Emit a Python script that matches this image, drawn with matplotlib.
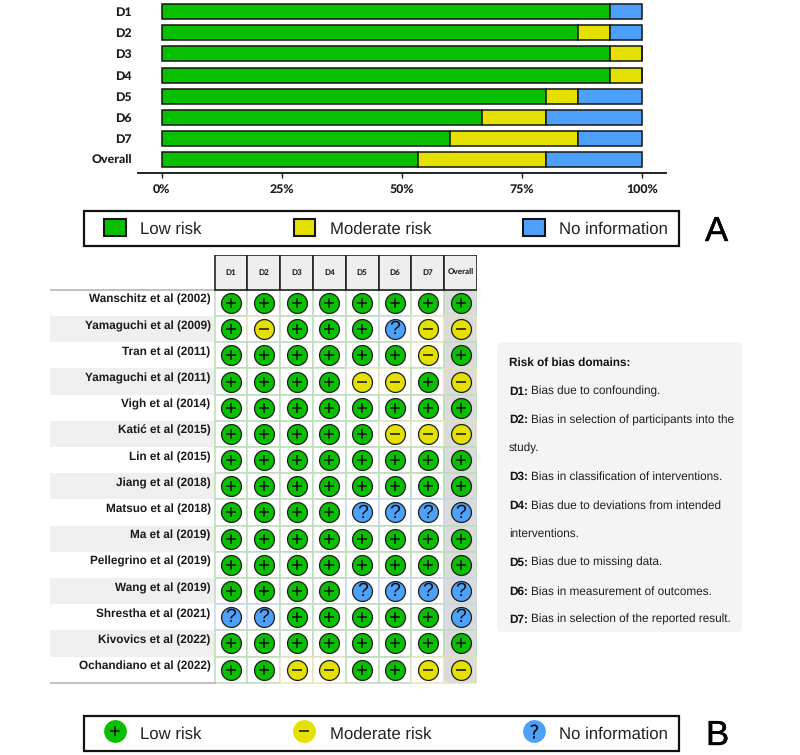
import matplotlib
matplotlib.use("Agg")
import matplotlib.pyplot as plt
import matplotlib.patheffects as pe
from matplotlib.patches import Patch, Rectangle, FancyBboxPatch
from matplotlib.lines import Line2D
from matplotlib.legend_handler import HandlerTuple

W, H = 800, 755

domains = ["D1", "D2", "D3", "D4", "D5", "D6", "D7", "Overall"]
low_pct = [93.3, 86.7, 93.3, 93.3, 80.0, 66.7, 60.0, 53.3]
moderate_pct = [0, 6.7, 6.7, 6.7, 6.7, 13.3, 26.7, 26.7]
noinfo_pct = [6.7, 6.6, 0, 0, 13.3, 20.0, 13.3, 20.0]
pct_ticks = [0, 25, 50, 75, 100]

studies = [
    "Wanschitz et al (2002)", "Yamaguchi et al (2009)", "Tran et al (2011)",
    "Yamaguchi et al (2011)", "Vigh et al (2014)", "Katić et al (2015)",
    "Lin et al (2015)", "Jiang et al (2018)", "Matsuo et al (2018)",
    "Ma et al (2019)", "Pellegrino et al (2019)", "Wang et al (2019)",
    "Shrestha et al (2021)", "Kivovics et al (2022)", "Ochandiano et al (2022)",
]
# one character per domain, D1..D7 then Overall
judgements = [
    "++++++++", "+-+++?--", "++++++-+", "++++--+-", "++++++++",
    "+++++---", "++++++++", "++++++++", "++++????", "++++++++",
    "++++++++", "++++????", "??+++++?", "++++++++", "++--++--",
]
risk_labels = ["Low risk", "Moderate risk", "No information"]

domain_notes = [
    ("", "Risk of bias domains:"),
    ("D1:", "Bias due to confounding."),
    ("D2:", "Bias in selection of participants into the"),
    ("", "study."),
    ("D3:", "Bias in classification of interventions."),
    ("D4:", "Bias due to deviations from intended"),
    ("", "interventions."),
    ("D5:", "Bias due to missing data."),
    ("D6:", "Bias in measurement of outcomes."),
    ("D7:", "Bias in selection of the reported result."),
]

GREEN = "#08BF00"
YELLOW = "#E4E000"
BLUE = "#4EA1FB"
INK = "#111111"
colors = {"+": GREEN, "-": YELLOW, "?": BLUE}
tints = {"+": "#BBDDBB", "-": "#E6E4BC", "?": "#C8D6EE"}

plt.rcParams["font.family"] = ["Liberation Sans", "DejaVu Sans"]
plt.rcParams["text.hinting"] = "none"
fig = plt.figure(figsize=(W / 100, H / 100), dpi=100)


def px_axes(x0, y0, x1, y1):
    ax = fig.add_axes([x0 / W, 1 - y1 / H, (x1 - x0) / W, (y1 - y0) / H])
    ax.patch.set_alpha(0)
    return ax


# panel A, stacked bars
ax = px_axes(138, 0, 666, 172.5)
left2 = [a + b for a, b in zip(low_pct, moderate_pct)]
pos = list(range(len(domains)))
bar_style = dict(height=0.71, edgecolor="#151515", linewidth=1.1)
ax.barh(pos, low_pct, color=GREEN, **bar_style)
ax.barh(pos, moderate_pct, left=low_pct, color=YELLOW, **bar_style)
ax.barh(pos, noinfo_pct, left=left2, color=BLUE, **bar_style)
ax.set_xlim(-4.93, 105)
ax.set_ylim(7.6, -0.544)
for s in ["top", "left", "right"]:
    ax.spines[s].set_visible(False)
ax.spines["bottom"].set_linewidth(1.4)
ax.spines["bottom"].set_color("#222222")
ax.set_yticks(pos, domains, fontfamily="Lato", fontweight="black", fontsize=8.9)
ax.set_xticks(pct_ticks, [f"{t}%" for t in pct_ticks], fontfamily="Lato",
              fontweight="black", fontsize=8.9)
ax.tick_params(axis="y", length=0, pad=4.5, colors="#1A1A1A")
ax.tick_params(axis="x", length=3.5, width=1, pad=5, colors="#1A1A1A")

# panel B, traffic light table
n_rows = len(studies)
n_cols = len(domains)
ax2 = px_axes(50, 255, 477, 684)
ax2.set_xlim(-5.515, n_cols - 0.5)
ax2.set_ylim(n_rows - 0.5 + 0.05, -1.83)
ax2.axis("off")

for i, study in enumerate(studies):
    if i % 2 == 1:
        ax2.add_patch(Rectangle((-5.515, i - 0.5), 5.015, 1, color="#EFEFEF", lw=0))
    ax2.text(-0.62, i - 0.12, study, ha="right", va="center", fontsize=8.5,
             fontweight="bold", color="#1A1A1A")
ax2.plot([-5.515, -0.5], [-0.5, -0.5], color="#BBBBBB", lw=1.3)
ax2.plot([-5.515, -0.5], [n_rows - 0.5, n_rows - 0.5], color="#BBBBBB", lw=1.3)

for j, name in enumerate(domains):
    ax2.add_patch(Rectangle((j - 0.5, -1.83), 1, 1.33, facecolor="#EEEEEE",
                            edgecolor="#222222", lw=1.2, zorder=3))
    ax2.text(j, -1.17, name, ha="center", va="center", fontfamily="Lato",
             fontweight="black", fontsize=5.8, color="#222222", zorder=4)

for i, row in enumerate(judgements):
    for j, mark in enumerate(row):
        face = "#DBDBDB" if j == n_cols - 1 else "white"
        ax2.add_patch(Rectangle((j - 0.5, i - 0.5), 1, 1, facecolor=face,
                                edgecolor=tints[mark], lw=1.1, zorder=1))
        ax2.scatter(j, i, s=205, color=colors[mark], edgecolor="#1C1C1C",
                    linewidth=0.9, zorder=3)
        if mark == "+":
            ax2.scatter(j, i, s=62, marker="+", color=INK, linewidth=1.1, zorder=4)
        elif mark == "-":
            ax2.scatter(j, i, s=62, marker="_", color=INK, linewidth=1.1, zorder=4)
        else:
            ax2.text(j, i + 0.01, "?", ha="center", va="center", fontsize=14,
                     color=INK, zorder=4)

# domain notes panel, legend frames and panel letters
ax3 = px_axes(0, 0, W, H)
ax3.set_xlim(0, W)
ax3.set_ylim(H, 0)
ax3.axis("off")
ax3.add_patch(FancyBboxPatch((501, 346), 237, 282, boxstyle="round,pad=4,rounding_size=5",
                             facecolor="#F4F4F4", edgecolor="none"))
renderer = fig.canvas.get_renderer()
for k, (head, body) in enumerate(domain_notes):
    y = 366 + k * 28.55
    x = 509
    if k == 0:
        ax3.text(x, y, body, fontsize=8.45, fontweight="bold", va="baseline", color=INK)
        continue
    if head:
        t = ax3.text(x, y, head, fontsize=8.45, fontweight="bold", va="baseline", color=INK)
        x = t.get_window_extent(renderer).x1 + 3
    ax3.text(x, y, body, fontsize=8.45, va="baseline", color="#1E1E1E")

stroke = [pe.withStroke(linewidth=0.3, foreground="black")]
ax3.text(705, 241, "A", fontsize=25, va="baseline", color="black", path_effects=stroke)
ax3.text(706, 745, "B", fontsize=25, va="baseline", color="black", path_effects=stroke)

ax3.add_patch(Rectangle((83.5, 211), 595.5, 34.5, facecolor="none", edgecolor=INK, lw=1.6))
ax3.add_patch(Rectangle((83.5, 715.5), 595.5, 35, facecolor="none", edgecolor=INK, lw=1.6))

# legends
legend_style = dict(loc="center", ncol=3, fontsize=12.1, frameon=False,
                    handlelength=1.3, handleheight=1.2,
                    handletextpad=0.84, columnspacing=5.5, borderaxespad=0,
                    labelcolor="#222222")
swatches = [Patch(facecolor=c, edgecolor="#151515", linewidth=1.5)
            for c in (GREEN, YELLOW, BLUE)]
fig.legend(swatches, risk_labels, bbox_to_anchor=(386 / W, 1 - 228 / H), **legend_style)


def dot(color, glyph, size, edge):
    base = Line2D([], [], ls="", marker="o", ms=16.4, mfc=color, mec="none")
    top = Line2D([], [], ls="", marker=glyph, ms=size, color=INK, mew=edge)
    return (base, top)


dots = [dot(GREEN, "+", 6.5, 1.1), dot(YELLOW, "_", 6.5, 1.1), dot(BLUE, "$?$", 10, 0.1)]
fig.legend(dots, risk_labels, bbox_to_anchor=(386 / W, 1 - 733 / H),
           handler_map={tuple: HandlerTuple(ndivide=1, pad=0)}, **legend_style)

fig.savefig("out.png", dpi=100, facecolor="white")
